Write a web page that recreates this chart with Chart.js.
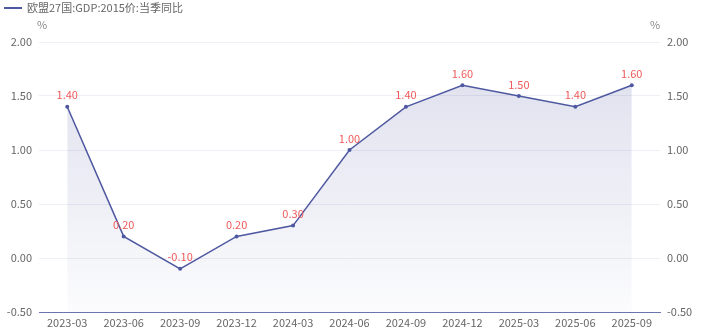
<!DOCTYPE html>
<html>
<head>
<meta charset="utf-8">
<script src="https://cdn.jsdelivr.net/npm/chart.js@4/dist/chart.umd.min.js"></script>
<style>
  html, body { margin: 0; padding: 0; background: #fff; }
  #wrap { width: 703px; height: 336px; position: relative; }
</style>
</head>
<body>
<div id="wrap"><canvas id="c"></canvas></div>
<script>
const quarters = ['2023-03', '2023-06', '2023-09', '2023-12', '2024-03', '2024-06', '2024-09', '2024-12', '2025-03', '2025-06', '2025-09'];
const gdpYoy = [1.40, 0.20, -0.10, 0.20, 0.30, 1.00, 1.40, 1.60, 1.50, 1.40, 1.60];
const seriesName = '欧盟27国:GDP:2015价:当季同比';
const unitLabel = '%';

const FONT = '"Noto Sans CJK SC", "Noto Sans", sans-serif';
const LINE_COLOR = '#4e58a0';

// legend, unit marks and value labels drawn straight on the canvas
const decorations = {
  id: 'decorations',
  afterDatasetsDraw(chart) {
    const ctx = chart.ctx;
    const area = chart.chartArea;
    ctx.save();
    ctx.font = '11px ' + FONT;

    ctx.strokeStyle = LINE_COLOR;
    ctx.lineWidth = 2;
    ctx.beginPath();
    ctx.moveTo(4, 8);
    ctx.lineTo(22, 8);
    ctx.stroke();
    ctx.fillStyle = '#666';
    ctx.textAlign = 'left';
    ctx.textBaseline = 'middle';
    ctx.fillText(seriesName, 27, 8);

    ctx.fillStyle = '#888';
    ctx.textAlign = 'center';
    ctx.fillText(unitLabel, area.left + 3, area.top - 17);
    ctx.fillText(unitLabel, area.right - 5, area.top - 17);

    ctx.fillStyle = '#f05a5a';
    ctx.textBaseline = 'bottom';
    const meta = chart.getDatasetMeta(0);
    meta.data.forEach((pt, i) => {
      ctx.fillText(gdpYoy[i].toFixed(2), pt.x, pt.y - 6);
    });
    ctx.restore();
  }
};

const tickStyle = { color: '#666', font: { family: FONT, size: 11 } };

new Chart(document.getElementById('c'), {
  type: 'line',
  data: {
    labels: quarters,
    datasets: [{
      label: seriesName,
      data: gdpYoy,
      yAxisID: 'y',
      borderColor: LINE_COLOR,
      borderWidth: 1.5,
      pointRadius: 2,
      pointBackgroundColor: LINE_COLOR,
      pointBorderWidth: 0,
      tension: 0,
      fill: 'start',
      backgroundColor: (c) => {
        const area = c.chart.chartArea;
        if (!area) return 'rgba(78,88,160,0.15)';
        const g = c.chart.ctx.createLinearGradient(0, area.top, 0, area.bottom);
        g.addColorStop(0, 'rgba(78,88,160,0.2)');
        g.addColorStop(1, 'rgba(78,88,160,0.02)');
        return g;
      }
    }, {
      // mirror of the same series, only to drive the right-hand axis
      data: gdpYoy,
      yAxisID: 'y2',
      showLine: false,
      pointRadius: 0,
      fill: false
    }]
  },
  options: {
    responsive: true,
    maintainAspectRatio: false,
    animation: false,
    layout: { padding: { top: 42, left: 0, right: 0, bottom: 0 } },
    plugins: {
      legend: { display: false },
      tooltip: { enabled: false }
    },
    scales: {
      x: {
        offset: true,
        grid: { display: false, drawTicks: false },
        border: { display: true, color: '#6b74ad', width: 1 },
        ticks: { ...tickStyle, maxRotation: 0, autoSkip: false, padding: 4 },
        afterFit: (s) => { s.height = 24; }
      },
      y: {
        position: 'left',
        min: -0.5,
        max: 2.0,
        grid: { color: '#eeeef5', drawTicks: false },
        border: { display: false },
        ticks: { ...tickStyle, stepSize: 0.5, padding: 7, callback: (v) => v.toFixed(2) },
        afterFit: (s) => { s.width = 39; }
      },
      y2: {
        position: 'right',
        min: -0.5,
        max: 2.0,
        grid: { display: false, drawTicks: false },
        border: { display: false },
        ticks: { ...tickStyle, stepSize: 0.5, padding: 7, callback: (v) => v.toFixed(2) },
        afterFit: (s) => { s.width = 43; }
      }
    }
  },
  plugins: [decorations]
});
</script>
</body>
</html>
